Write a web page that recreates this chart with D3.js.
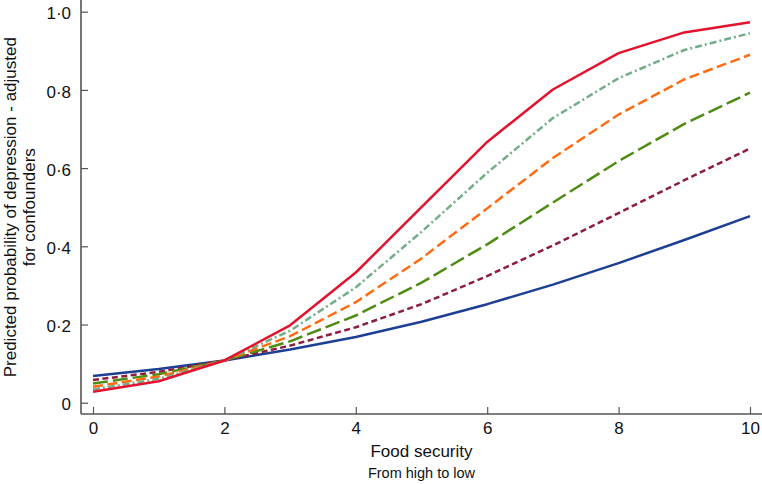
<!DOCTYPE html>
<html>
<head>
<meta charset="utf-8">
<script src="https://cdn.jsdelivr.net/npm/d3@7"></script>
<style>
  html, body { margin: 0; padding: 0; background: #fff; }
  svg { display: block; font-family: "Liberation Sans", Arial, sans-serif; }
</style>
</head>
<body>
<svg id="chart" width="762" height="484"></svg>
<script>
// ---- data ----
const foodSecurity = [0, 1, 2, 3, 4, 5, 6, 7, 8, 9, 10];
const seriesBlue      = [0.068, 0.086, 0.108, 0.136, 0.168, 0.207, 0.252, 0.302, 0.357, 0.416, 0.477];
const seriesMaroon    = [0.058, 0.079, 0.108, 0.146, 0.193, 0.252, 0.324, 0.402, 0.485, 0.569, 0.650];
const seriesGreen     = [0.049, 0.073, 0.108, 0.157, 0.223, 0.307, 0.405, 0.512, 0.618, 0.713, 0.793];
const seriesOrange    = [0.041, 0.067, 0.108, 0.170, 0.257, 0.369, 0.497, 0.626, 0.737, 0.827, 0.890];
const seriesLightGreen= [0.034, 0.061, 0.108, 0.184, 0.295, 0.437, 0.588, 0.728, 0.830, 0.902, 0.945];
const seriesRed       = [0.028, 0.055, 0.108, 0.198, 0.333, 0.500, 0.667, 0.801, 0.894, 0.947, 0.973];
const xTicks = [0, 2, 4, 6, 8, 10];
const xTickLabels = ["0", "2", "4", "6", "8", "10"];
const yTicks = [0, 0.2, 0.4, 0.6, 0.8, 1.0];
const yTickLabels = ["0", "0·2", "0·4", "0·6", "0·8", "1·0"];
const xTitle = "Food security";
const xSubtitle = "From high to low";
const yTitle = ["Predicted probability of depression - adjusted", "for confounders"];

// ---- styles (not data) ----
const seriesList = [
  { values: seriesBlue,       color: "#1c3f94", dash: null },
  { values: seriesMaroon,     color: "#8d1c40", dash: "6,3.5" },
  { values: seriesGreen,      color: "#4e8c14", dash: "15,5" },
  { values: seriesOrange,     color: "#ff6b12", dash: "10,4.5" },
  { values: seriesLightGreen, color: "#72ad88", dash: "7,3,2,3" },
  { values: seriesRed,        color: "#e3132f", dash: null }
];

const svg = d3.select("#chart");
const axisColor = "#555";
const textColor = "#111";

const x = d3.scaleLinear().domain([0, 10]).range([93, 750]);
const y = d3.scaleLinear().domain([0, 1]).range([402.7, 11.7]);

const axisX = 81, axisY = 414;

// axis lines
svg.append("line").attr("x1", axisX).attr("x2", 762).attr("y1", axisY).attr("y2", axisY)
  .attr("stroke", axisColor).attr("stroke-width", 1.6);
svg.append("line").attr("x1", axisX).attr("x2", axisX).attr("y1", 0).attr("y2", axisY)
  .attr("stroke", axisColor).attr("stroke-width", 1.6);

// x axis ticks (inward)
const gx = svg.append("g").attr("transform", `translate(0,${axisY})`)
  .call(d3.axisBottom(x).tickValues(xTicks).tickSizeInner(-7).tickSizeOuter(0).tickPadding(8)
    .tickFormat((d, i) => xTickLabels[i]));
gx.select(".domain").remove();
gx.selectAll(".tick line").attr("stroke", axisColor).attr("stroke-width", 1.2);
gx.selectAll(".tick text").attr("font-size", 17).attr("fill", textColor)
  .attr("font-family", "Liberation Sans, Arial, sans-serif");

// y axis ticks (inward)
const gy = svg.append("g").attr("transform", `translate(${axisX},0)`)
  .call(d3.axisLeft(y).tickValues(yTicks).tickSizeInner(-7).tickSizeOuter(0).tickPadding(10)
    .tickFormat((d, i) => yTickLabels[i]));
gy.select(".domain").remove();
gy.selectAll(".tick line").attr("stroke", axisColor).attr("stroke-width", 1.2);
gy.selectAll(".tick text").attr("font-size", 17).attr("fill", textColor).attr("dy", "0.42em")
  .attr("font-family", "Liberation Sans, Arial, sans-serif");

// lines
const line = d3.line().x((d, i) => x(foodSecurity[i])).y(d => y(d));
seriesList.forEach(s => {
  svg.append("path").datum(s.values)
    .attr("d", line)
    .attr("fill", "none")
    .attr("stroke", s.color)
    .attr("stroke-width", 2.5)
    .attr("stroke-linejoin", "round")
    .attr("stroke-dasharray", s.dash);
});

// titles
svg.append("text").attr("x", x(5)).attr("y", 457).attr("text-anchor", "middle")
  .attr("font-size", 17).attr("fill", textColor).text(xTitle);
svg.append("text").attr("x", x(5)).attr("y", 478).attr("text-anchor", "middle")
  .attr("font-size", 14.5).attr("fill", textColor).text(xSubtitle);

const yMid = (y(0) + y(1)) / 2;
yTitle.forEach((t, i) => {
  svg.append("text")
    .attr("transform", `translate(${15.5 + i * 19.5},${yMid}) rotate(-90)`)
    .attr("text-anchor", "middle")
    .attr("font-size", 17).attr("fill", textColor).text(t);
});
</script>
</body>
</html>
